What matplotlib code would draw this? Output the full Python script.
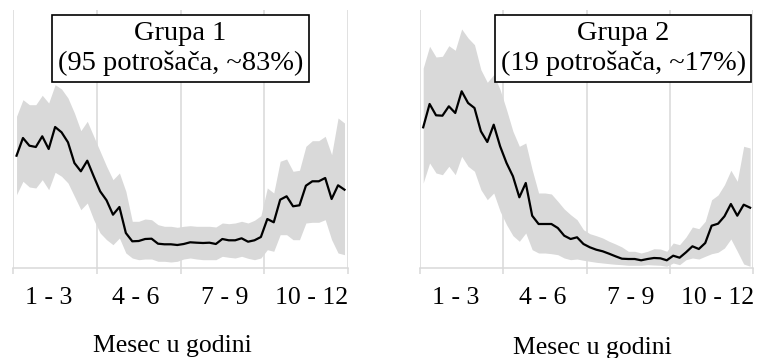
"""Weekly consumption profiles of the two consumer groups."""

import numpy as np
import matplotlib
matplotlib.use('Agg')
import matplotlib.pyplot as plt

plt.rcParams['font.family'] = ['Liberation Serif', 'DejaVu Serif']

# 52 weeks of the year, shown as four quarters
N_WEEKS = 52
quarter_labels = ['1 - 3', '4 - 6', '7 - 9', '10 - 12']
xlabel = 'Mesec u godini'

group_titles = ['Grupa 1\n(95 potrošača, ~83%)',
                'Grupa 2\n(19 potrošača, ~17%)']

# group 1: mean and band (arbitrary units)
g1_mean = [112.3, 130.0, 122.3, 121.0, 131.7, 119.0, 141.0, 135.7, 125.7, 105.0,
           96.7, 107.3, 91.7, 76.7, 67.7, 53.3, 61.0, 35.0, 26.7, 27.0,
           29.0, 29.3, 24.3, 23.7, 23.7, 23.0, 24.0, 25.7, 25.3, 25.0,
           25.3, 24.0, 29.0, 27.7, 27.7, 29.7, 26.3, 27.7, 31.0, 49.0,
           45.7, 68.3, 71.7, 61.7, 62.7, 82.3, 86.7, 86.7, 90.0, 69.0,
           82.7, 78.3]
g1_high = [151.7, 168.3, 163.3, 163.3, 172.7, 165.0, 183.3, 179.0, 170.0, 155.0,
           137.3, 146.7, 131.7, 116.7, 101.7, 88.3, 95.0, 76.7, 46.7, 46.7,
           49.0, 48.3, 43.3, 41.7, 41.7, 40.7, 41.7, 42.3, 41.7, 41.7,
           41.7, 41.0, 45.0, 44.3, 45.0, 46.7, 45.0, 47.7, 52.3, 80.0,
           75.0, 106.7, 109.0, 96.7, 97.7, 121.7, 127.3, 127.3, 131.7, 113.3,
           150.0, 145.0]
g1_low = [73.3, 86.7, 81.0, 80.0, 88.3, 78.3, 95.7, 91.7, 85.0, 71.7,
          58.3, 65.0, 48.3, 35.0, 28.3, 23.3, 30.0, 15.0, 10.0, 8.3,
          9.0, 9.0, 6.7, 6.7, 6.0, 6.7, 9.0, 10.0, 9.0, 8.3,
          8.3, 8.3, 11.7, 10.7, 10.0, 11.7, 9.7, 8.3, 10.0, 18.3,
          16.7, 33.3, 33.3, 28.3, 28.3, 45.0, 45.7, 45.7, 48.3, 28.3,
          15.0, 13.3]

# group 2
g2_mean = [140.7, 164.0, 152.7, 152.3, 161.7, 155.0, 176.7, 165.0, 160.0, 136.7,
           126.0, 143.3, 121.7, 105.0, 91.7, 70.7, 85.0, 52.3, 44.0, 44.0,
           44.0, 40.0, 32.3, 29.0, 30.7, 24.0, 20.7, 18.3, 16.7, 14.3,
           11.7, 9.3, 9.0, 9.0, 7.7, 9.0, 10.0, 9.7, 7.7, 12.3,
           10.3, 15.7, 21.7, 19.0, 25.0, 42.3, 44.3, 51.7, 64.0, 52.3,
           63.3, 60.3]
g2_high = [200.0, 221.7, 211.0, 211.7, 222.3, 217.7, 239.0, 230.0, 223.3, 198.3,
           185.7, 193.3, 178.3, 158.3, 136.7, 121.7, 125.0, 98.3, 75.0, 75.0,
           74.0, 66.7, 59.0, 53.3, 48.3, 38.3, 34.3, 32.3, 30.0, 26.7,
           24.0, 21.0, 16.7, 16.7, 15.0, 16.7, 19.3, 19.0, 16.7, 25.0,
           23.3, 31.0, 41.0, 39.3, 46.7, 68.3, 73.0, 83.3, 97.7, 86.7,
           121.7, 120.0]
g2_low = [85.0, 105.0, 95.0, 93.3, 101.7, 93.3, 111.7, 101.7, 96.7, 78.3,
          68.3, 75.0, 56.7, 43.3, 32.3, 26.7, 35.0, 18.3, 15.0, 15.0,
          14.3, 13.3, 10.0, 8.3, 9.0, 7.7, 6.7, 5.7, 5.0, 4.3,
          3.7, 3.3, 2.7, 2.7, 2.7, 3.3, 3.0, 2.7, 1.7, 5.0,
          3.3, 8.3, 10.0, 9.0, 11.7, 14.3, 15.7, 20.0, 29.0, 16.7,
          4.0, 1.7]

GRID = '#d9d9d9'
BAND = '#d9d9d9'
# where the quarter labels sit, in weeks
LABEL_POS = [5.5, 19.1, 32.9, 46.4]


def draw_group(ax, mean, low, high, title, title_x):
    """Draw one group panel: band, mean line, quarter grid."""
    weeks = np.arange(N_WEEKS) + 0.5
    ax.fill_between(weeks, low, high, color=BAND, lw=0, zorder=1)
    ax.plot(weeks, mean, color='black', lw=1.6, zorder=3)

    ax.set_xlim(0, N_WEEKS)
    ax.set_ylim(0, 258)
    ax.set_yticks([])

    edges = np.linspace(0, N_WEEKS, len(quarter_labels) + 1)
    ax.set_xticks(edges)
    ax.set_xticklabels([])
    ax.set_xticks(LABEL_POS, minor=True)
    ax.set_xticklabels(quarter_labels, minor=True, fontsize=18.5)
    ax.tick_params(axis='x', which='major', direction='out', length=4.5,
                   width=1.1, color=GRID)
    ax.tick_params(axis='x', which='minor', length=0, pad=14)
    ax.grid(axis='x', which='major', color=GRID, lw=1.1, zorder=0)

    for side in ('top', 'left', 'right'):
        ax.spines[side].set_visible(False)
    ax.spines['bottom'].set_color(GRID)
    ax.spines['bottom'].set_linewidth(1.1)

    ax.text(title_x, 0.851, title, transform=ax.transAxes, fontsize=20.5,
            ha='center', va='center', multialignment='center',
            linespacing=1.25, zorder=5,
            bbox=dict(boxstyle='square,pad=0.19', fc='white', ec='black', lw=1.2))


fig = plt.figure(figsize=(7.61, 3.58), dpi=100)
ax1 = fig.add_axes([0.0175, 0.2514, 0.4394, 0.7207])
ax2 = fig.add_axes([0.5519, 0.2514, 0.438, 0.7207])

draw_group(ax1, g1_mean, g1_low, g1_high, group_titles[0], 0.5)
draw_group(ax2, g2_mean, g2_low, g2_high, group_titles[1], 0.61)

fig.text(0.227, 0.017, xlabel, fontsize=18.5, ha='center', va='baseline')
fig.text(0.778, 0.011, xlabel, fontsize=18.5, ha='center', va='baseline')

fig.savefig('out.png', dpi=100)
